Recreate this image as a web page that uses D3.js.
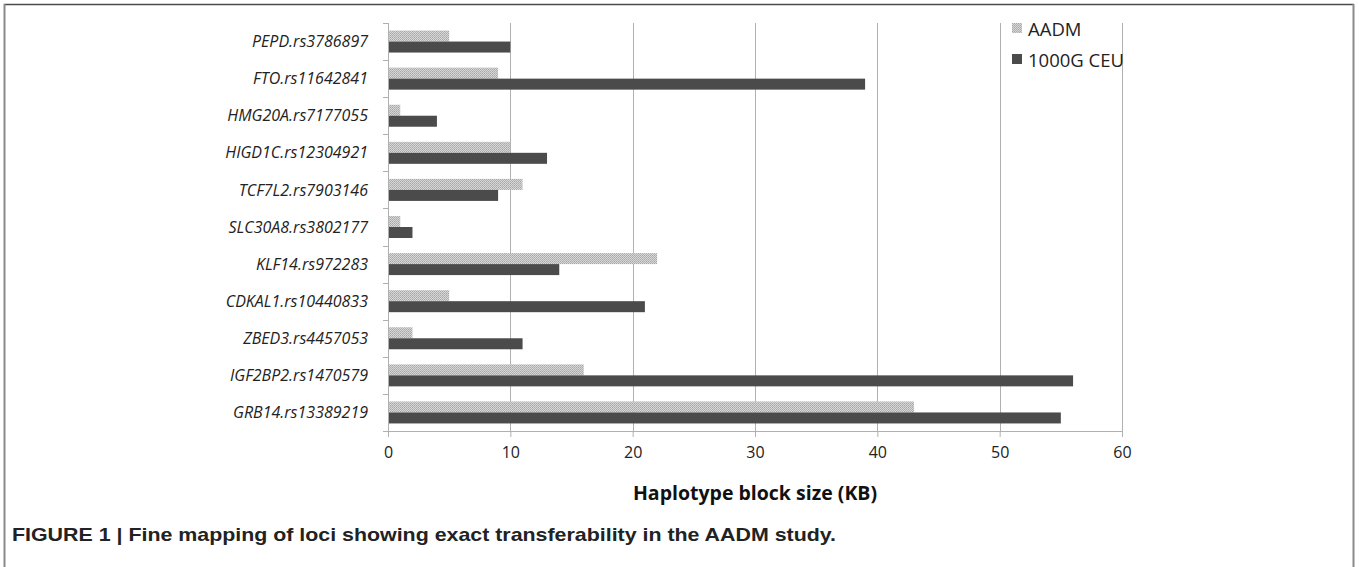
<!DOCTYPE html>
<html>
<head>
<meta charset="utf-8">
<script src="https://cdn.jsdelivr.net/npm/d3@7"></script>
<style>
  body { margin: 0; background: #fff; }
</style>
</head>
<body>
<div id="chart"></div>
<script>
var loci = ["PEPD.rs3786897", "FTO.rs11642841", "HMG20A.rs7177055", "HIGD1C.rs12304921",
  "TCF7L2.rs7903146", "SLC30A8.rs3802177", "KLF14.rs972283", "CDKAL1.rs10440833",
  "ZBED3.rs4457053", "IGF2BP2.rs1470579", "GRB14.rs13389219"];
var aadm = [5, 9, 1, 10, 11, 1, 22, 5, 2, 16, 43];
var ceu = [10, 39, 4, 13, 9, 2, 14, 21, 11, 56, 55];
var seriesNames = ["AADM", "1000G CEU"];
var xTicks = [0, 10, 20, 30, 40, 50, 60];

var W = 1359, H = 567;
var margin = {top: 23, left: 388, right: 237, bottom: 136};
var width = W - margin.left - margin.right,
    height = H - margin.top - margin.bottom;

var svg = d3.select("#chart")
  .append("svg")
    .attr("width", W)
    .attr("height", H);

var defs = svg.append("defs");
var pat = defs.append("pattern")
  .attr("id", "dots")
  .attr("patternUnits", "userSpaceOnUse")
  .attr("width", 2).attr("height", 2);
pat.append("rect").attr("width", 2).attr("height", 2).attr("fill", "#d6d6d6");
pat.append("rect").attr("width", 1).attr("height", 1).attr("fill", "#a8a8a8");
pat.append("rect").attr("x", 1).attr("y", 1).attr("width", 1).attr("height", 1).attr("fill", "#b4b4b4");

// outer frame
svg.append("line").attr("x1", 4).attr("x2", 1354).attr("y1", 4.5).attr("y2", 4.5)
  .style("stroke", "#4a4a4a").style("stroke-width", 1.5);
svg.append("line").attr("x1", 4.5).attr("x2", 4.5).attr("y1", 4).attr("y2", H)
  .style("stroke", "#8a8a8a").style("stroke-width", 2);
svg.append("line").attr("x1", 1353.5).attr("x2", 1353.5).attr("y1", 4).attr("y2", H)
  .style("stroke", "#8a8a8a").style("stroke-width", 2);

var g = svg.append("g")
  .attr("transform", "translate(" + margin.left + "," + margin.top + ")");

var x = d3.scaleLinear().domain([0, 60]).range([0, width]);
var y = d3.scaleBand().domain(loci).range([0, height]);
var barH = 11;

// gridlines
g.append("g")
  .selectAll("line")
  .data(xTicks.slice(1))
  .join("line")
    .attr("x1", d => Math.round(x(d)) + 0.5)
    .attr("x2", d => Math.round(x(d)) + 0.5)
    .attr("y1", 0)
    .attr("y2", height)
    .style("stroke", "#b0b0b0")
    .style("stroke-width", 1);

// bars
loci.forEach(function(l, i) {
  var yc = y(l) + y.bandwidth() / 2;
  g.append("rect")
    .attr("x", x(0))
    .attr("y", yc - barH)
    .attr("width", x(aadm[i]) - x(0))
    .attr("height", barH)
    .attr("fill", "url(#dots)");
  g.append("rect")
    .attr("x", x(0))
    .attr("y", yc)
    .attr("width", x(ceu[i]) - x(0))
    .attr("height", barH)
    .attr("fill", "#4b4b4b");
});

// x axis
var xAxis = g.append("g")
  .attr("transform", "translate(0," + height + ")")
  .call(d3.axisBottom(x).tickValues(xTicks).tickSize(6).tickPadding(10));
xAxis.select(".domain").attr("stroke", "#b0b0b0");
xAxis.selectAll(".tick line").attr("stroke", "#b0b0b0");
xAxis.selectAll("text")
  .style("font-family", "'Open Sans', sans-serif")
  .style("font-size", "16px")
  .style("fill", "#222");

// y axis with category ticks on band boundaries
var yAxis = g.append("g");
yAxis.append("line")
  .attr("x1", 0.5).attr("x2", 0.5).attr("y1", 0).attr("y2", height + 6)
  .style("stroke", "#b0b0b0");
yAxis.selectAll(".bt")
  .data(loci.concat(["_end"]))
  .join("line")
    .attr("class", "bt")
    .attr("x1", -5).attr("x2", 0)
    .attr("y1", (d, i) => Math.round(i * y.step()) + 0.5)
    .attr("y2", (d, i) => Math.round(i * y.step()) + 0.5)
    .style("stroke", "#b0b0b0");
yAxis.selectAll("text")
  .data(loci)
  .join("text")
    .attr("x", -20)
    .attr("y", d => y(d) + y.bandwidth() / 2)
    .attr("dy", "0.35em")
    .attr("text-anchor", "end")
    .style("font-family", "'Open Sans', sans-serif")
    .style("font-style", "italic")
    .style("font-size", "16px")
    .style("fill", "#222")
    .text(d => d);

// axis title
g.append("text")
  .attr("x", width / 2)
  .attr("y", height + 69)
  .attr("text-anchor", "middle")
  .style("font-family", "'Open Sans', sans-serif")
  .style("font-weight", "bold")
  .style("font-size", "19.5px")
  .style("fill", "#111")
  .text("Haplotype block size (KB)");

// legend
var legend = g.append("g").attr("transform", "translate(624,0)");
var legendFills = ["url(#dots)", "#4b4b4b"];
seriesNames.forEach(function(s, i) {
  legend.append("rect")
    .attr("x", 0)
    .attr("y", i * 31 + 0)
    .attr("width", 10)
    .attr("height", 10)
    .attr("fill", legendFills[i]);
  legend.append("text")
    .attr("x", 16)
    .attr("y", i * 31 + 7)
    .attr("dy", "0.35em")
    .style("font-family", "'Open Sans', sans-serif")
    .style("font-size", "18.5px")
    .style("fill", "#222")
    .text(s);
});

// caption
svg.append("text")
  .attr("x", 12)
  .attr("y", 541)
  .attr("textLength", 824)
  .attr("lengthAdjust", "spacingAndGlyphs")
  .style("font-family", "'Liberation Sans', Arial, sans-serif")
  .style("font-weight", "bold")
  .style("font-size", "19px")
  .style("fill", "#222")
  .text("FIGURE 1 | Fine mapping of loci showing exact transferability in the AADM study.");
</script>
</body>
</html>
